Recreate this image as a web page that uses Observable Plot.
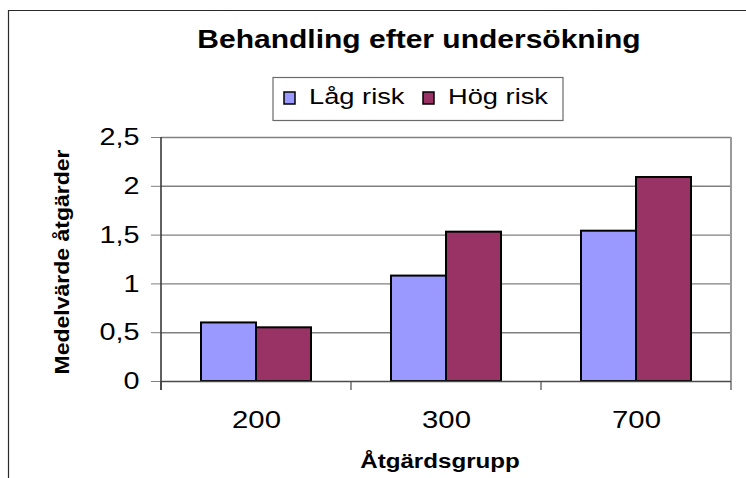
<!DOCTYPE html>
<html>
<head>
<meta charset="utf-8">
<script src="https://cdn.jsdelivr.net/npm/d3@7"></script>
<script src="https://cdn.jsdelivr.net/npm/@observablehq/plot@0.6"></script>
<style>
  html, body { margin: 0; padding: 0; background: #fff; }
  #wrap { position: relative; width: 746px; height: 478px; overflow: hidden; }
  #wrap > svg { position: absolute; left: 0; top: 0; }
</style>
</head>
<body>
<div id="wrap"></div>
<script>
const groups = ["200", "300", "700"];
const series = ["Låg risk", "Hög risk"];
const lowRisk = [0.60, 1.08, 1.54];
const highRisk = [0.55, 1.53, 2.09];
const yTicks = [0, 0.5, 1, 1.5, 2, 2.5];
const colors = ["#9999FF", "#993366"];
const titleText = "Behandling efter undersökning";
const xTitle = "Åtgärdsgrupp";
const yTitle = "Medelvärde åtgärder";

const data = groups.flatMap((g, i) => [
  {group: g, series: series[0], value: lowRisk[i]},
  {group: g, series: series[1], value: highRisk[i]}
]);

const font = "'Liberation Sans', Arial, sans-serif";

const plot = Plot.plot({
  className: "chart",
  width: 746,
  height: 478,
  marginLeft: 160,
  marginRight: 15,
  marginTop: 137,
  marginBottom: 97,
  style: {fontFamily: font, background: "transparent", overflow: "visible"},
  fx: {domain: groups, padding: 0, label: null},
  x: {domain: series, paddingInner: 0, paddingOuter: 0.727, axis: null},
  y: {domain: [0, 2.5], label: null},
  color: {domain: series, range: colors},
  marks: [
    Plot.ruleY(yTicks.slice(1), {stroke: "#808080", strokeWidth: 1.4}),
    Plot.barY(data, {fx: "group", x: "series", y: "value", fill: "series", stroke: "#000", strokeWidth: 2}),
    Plot.ruleY([0], {stroke: "#4a4a4a", strokeWidth: 1.6}),
    Plot.axisY({ticks: yTicks, tickFormat: d => String(d).replace(".", ","), tickSize: 10, tickPadding: 12,
                fontSize: 24, stroke: "#808080", fill: "#000", label: null}),
    Plot.axisFx({anchor: "bottom", tickSize: 0, tickPadding: 29, fontSize: 24, fill: "#000", label: null})
  ]
});

const wrap = document.getElementById("wrap");
wrap.appendChild(plot);

// widen the tick label glyphs horizontally (the reference font is stretched)
function stretch(sel, sx) {
  sel.each(function() {
    const t = d3.select(this);
    const tr = t.attr("transform") || "";
    t.attr("transform", `${tr} scale(${sx},1)`);
  });
}
const svgP = d3.select(plot);
stretch(svgP.selectAll('[aria-label="y-axis tick label"] text'), 1.2);
stretch(svgP.selectAll('[aria-label="fx-axis tick label"] text'), 1.22);

// structural lines derived from Plot's scales
const fx = plot.scale("fx");
const y = plot.scale("y");
const bw = fx.bandwidth;
const y0 = y.apply(0), yTop = y.apply(2.5);
const g = svgP.append("g").attr("aria-label", "frame lines");
const left = fx.apply(groups[0]);
const right = fx.apply(groups[groups.length - 1]) + bw;
g.append("line").attr("x1", right).attr("x2", right).attr("y1", yTop).attr("y2", y0)
  .attr("stroke", "#9a9a9a").attr("stroke-width", 2);
const seps = groups.map(d => fx.apply(d)).concat([right]);
g.selectAll("line.sep").data(seps).join("line").attr("class", "sep")
  .attr("x1", d => d).attr("x2", d => d).attr("y1", y0).attr("y2", y0 + 9)
  .attr("stroke", "#4a4a4a").attr("stroke-width", 1.2);
g.append("line").attr("x1", left).attr("x2", left).attr("y1", yTop).attr("y2", y0 + 9)
  .attr("stroke", "#3a3a3a").attr("stroke-width", 1.6);

// overlay: frame, title, legend, axis titles
const ov = d3.select(wrap).append("svg").attr("width", 746).attr("height", 478)
  .style("font-family", font);
ov.append("path").attr("d", "M8.5,478 V10.5 H746").attr("fill", "none")
  .attr("stroke", "#2a2a2a").attr("stroke-width", 1.2);

ov.append("text").attr("transform", "translate(419,48.3) scale(1.2,1)").attr("text-anchor", "middle")
  .attr("font-size", 25).attr("font-weight", "bold")
  .text(titleText);

const leg = ov.append("g");
leg.append("rect").attr("x", 273).attr("y", 77.5).attr("width", 290).attr("height", 43)
  .attr("fill", "#fff").attr("stroke", "#6a6a6a").attr("stroke-width", 1.2);
const legX = [284, 423];
series.forEach((s, i) => {
  leg.append("rect").attr("x", legX[i]).attr("y", 92).attr("width", 11).attr("height", 12)
    .attr("fill", colors[i]).attr("stroke", "#000").attr("stroke-width", 1.5);
  leg.append("text").attr("transform", `translate(${legX[i] + 25},104.3) scale(1.24,1)`)
    .attr("font-size", 22).text(s);
});

ov.append("text").attr("transform", "translate(440,468) scale(1.15,1)").attr("text-anchor", "middle")
  .attr("font-size", 21).attr("font-weight", "bold")
  .text(xTitle);

ov.append("text").attr("transform", "translate(69,262) rotate(-90) scale(1.15,1)").attr("text-anchor", "middle")
  .attr("font-size", 20).attr("font-weight", "bold")
  .text(yTitle);
</script>
</body>
</html>
